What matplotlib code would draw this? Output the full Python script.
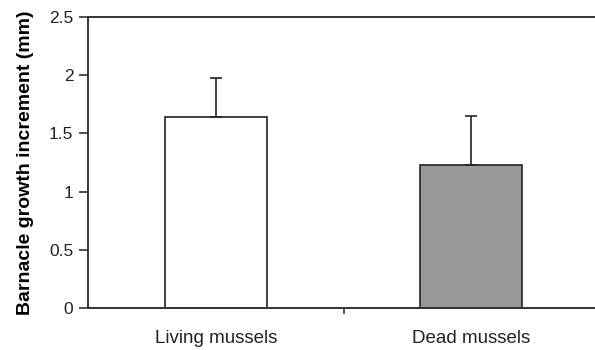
import matplotlib
matplotlib.use("Agg")
import matplotlib.pyplot as plt

categories = ["Living mussels", "Dead mussels"]
means = [1.64, 1.23]
errors = [0.34, 0.42]
colors = ["#ffffff", "#999999"]
yticks = [0, 0.5, 1, 1.5, 2, 2.5]
ytick_labels = ["0", "0.5", "1", "1.5", "2", "2.5"]

plt.rcParams['font.family'] = ['Liberation Sans', 'DejaVu Sans']

fig = plt.figure(figsize=(5.95, 3.5), dpi=100)
ax = fig.add_axes([88/595, 42/350, 511/595, 291/350])

x = list(range(len(categories)))
ax.bar(x, means, width=0.4, color=colors, edgecolor="#222222", linewidth=1.2, zorder=2)
ax.errorbar(x, means, yerr=[[0]*len(errors), errors], fmt="none", ecolor="#222222",
            elinewidth=1.2, capsize=4, capthick=1.2, zorder=3)

ax.set_xlim(-0.5, 1.5)
ax.set_ylim(0, 2.5)
ax.set_yticks(yticks)
ax.set_yticklabels(ytick_labels, fontsize=12.5, color="#222222")
ax.set_xticks([0.5])
ax.set_xticklabels([""])
ax.tick_params(axis="y", direction="out", length=6.5, width=1.2, color="#333333", pad=4)
ax.tick_params(axis="x", direction="out", length=4, width=1.2, color="#333333")
for i, c in enumerate(categories):
    ax.annotate(c, xy=(x[i], 0), xycoords=("data", "axes fraction"),
                xytext=(0, -15.5), textcoords="offset points",
                ha="center", va="top", fontsize=13.5, color="#222222")

for s in ["top", "bottom", "left"]:
    ax.spines[s].set_color("#333333")
    ax.spines[s].set_linewidth(1.4)
ax.spines["right"].set_visible(False)

ax.set_ylabel("Barnacle growth increment (mm)", fontsize=14, fontweight="bold", labelpad=11)

fig.savefig("out.png", dpi=100)
